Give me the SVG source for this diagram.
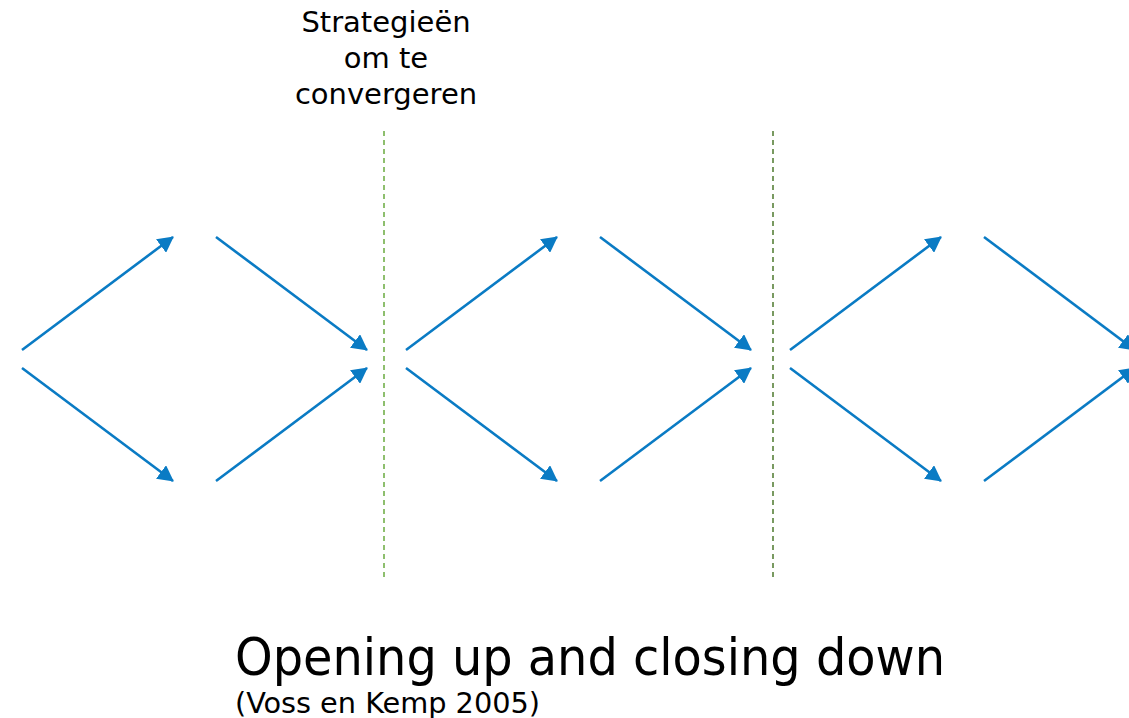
<svg xmlns="http://www.w3.org/2000/svg" width="1129" height="718" viewBox="0 0 1129 718">
<style>
.a{stroke:#0A7BC4;stroke-width:2.6;fill:none;marker-end:url(#ah)}
.d{stroke-width:1.5;stroke-dasharray:5 4;fill:none}
text{font-family:"DejaVu Sans",Verdana,sans-serif;fill:#000}
.c{font-family:"DejaVu Sans Condensed","DejaVu Sans",sans-serif}
</style>
<defs>
<marker id="ah" viewBox="0 0 16 17" refX="15" refY="8.5" markerWidth="16" markerHeight="17" markerUnits="userSpaceOnUse" orient="auto">
<path d="M0,0 L16,8.5 L0,17 Z" fill="#0A7BC4"/>
</marker>
</defs>
<rect width="1129" height="718" fill="#fff"/>
<g id="label-top">
<text x="386" y="32" font-size="29" text-anchor="middle">Strategieën</text>
<text x="386" y="68" font-size="29" text-anchor="middle">om te</text>
<text x="386" y="104" font-size="29" text-anchor="middle">convergeren</text>
</g>
<g id="dividers">
<line class="d" x1="384" y1="131" x2="384" y2="577" stroke="#6AAB3F"/>
<line class="d" x1="773" y1="131" x2="773" y2="577" stroke="#4E7A2E"/>
</g>
<g id="connectors">
<g id="diamond1">
<line class="a" x1="22" y1="350" x2="173" y2="237"/>
<line class="a" x1="22" y1="368" x2="173" y2="481"/>
<line class="a" x1="216" y1="237" x2="367" y2="350"/>
<line class="a" x1="216" y1="481" x2="367" y2="368"/>
</g>
<g id="diamond2" transform="translate(384,0)">
<line class="a" x1="22" y1="350" x2="173" y2="237"/>
<line class="a" x1="22" y1="368" x2="173" y2="481"/>
<line class="a" x1="216" y1="237" x2="367" y2="350"/>
<line class="a" x1="216" y1="481" x2="367" y2="368"/>
</g>
<g id="diamond3" transform="translate(768,0)">
<line class="a" x1="22" y1="350" x2="173" y2="237"/>
<line class="a" x1="22" y1="368" x2="173" y2="481"/>
<line class="a" x1="216" y1="237" x2="367" y2="350"/>
<line class="a" x1="216" y1="481" x2="367" y2="368"/>
</g>
</g>
<g id="title">
<text class="c" x="235" y="675" font-size="52" textLength="710" lengthAdjust="spacingAndGlyphs">Opening up and closing down</text>
<text class="c" x="235" y="713" font-size="29" textLength="305" lengthAdjust="spacingAndGlyphs">(Voss en Kemp 2005)</text>
</g>
</svg>
